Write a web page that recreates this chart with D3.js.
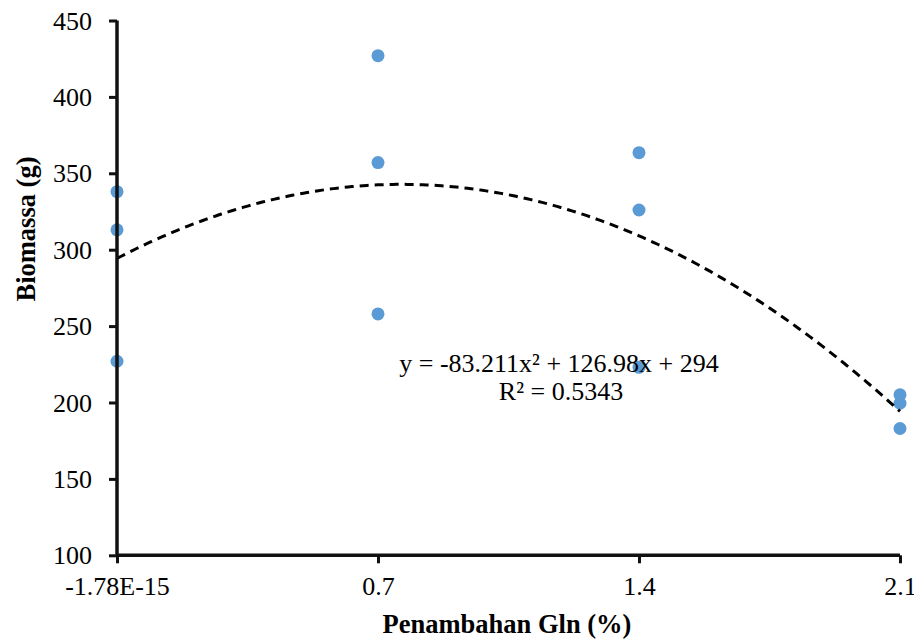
<!DOCTYPE html>
<html><head><meta charset="utf-8">
<script src="https://cdn.jsdelivr.net/npm/d3@7"></script>
<style>body{margin:0;background:#fff}svg{display:block}text{font-family:"Liberation Serif","Times New Roman",serif;fill:#000}</style>
</head><body>
<svg id="c" width="914" height="639"></svg>
<script>
const xValues = [0,0,0, 0.7,0.7,0.7, 1.4,1.4,1.4, 2.1,2.1,2.1];
const yValues = [338,313,227, 427,357,258, 363.5,326,223, 205,199.5,183];
const xTicks = [0, 0.7, 1.4, 2.1];
const xTickLabels = ["-1.78E-15", "0.7", "1.4", "2.1"];
const yTicks = [100,150,200,250,300,350,400,450];
const equationText = "y = -83.211x² + 126.98x + 294";
const r2Text = "R² = 0.5343";

const FONT = '"Liberation Serif","Times New Roman",serif';
const svg = d3.select("#c");
const L = 117, R = 900, T = 20.5, B = 555.3;
const x = d3.scaleLinear().domain([0, 2.1]).range([L, R]);
const y = d3.scaleLinear().domain([100, 450]).range([B, T]);

// polynomial (order 2) least squares fit of the data
function polyfit2(xs, ys){
  let S=[0,0,0,0,0], Ty=[0,0,0];
  xs.forEach((xi,i)=>{let p=1;for(let k=0;k<5;k++){S[k]+=p;if(k<3)Ty[k]+=p*ys[i];p*=xi;}});
  const A=[[S[0],S[1],S[2],Ty[0]],[S[1],S[2],S[3],Ty[1]],[S[2],S[3],S[4],Ty[2]]];
  for(let i=0;i<3;i++){for(let j=i+1;j<3;j++){const f=A[j][i]/A[i][i];for(let k=i;k<4;k++)A[j][k]-=f*A[i][k];}}
  const c=[0,0,0];
  for(let i=2;i>=0;i--){let s=A[i][3];for(let k=i+1;k<3;k++)s-=A[i][k]*c[k];c[i]=s/A[i][i];}
  return c;
}
const coef = polyfit2(xValues, yValues);
const trend = d3.range(0, 2.1001, 0.01).map(v => [v, coef[0]+coef[1]*v+coef[2]*v*v]);

// points
svg.append("g").selectAll("circle").data(xValues).join("circle")
  .attr("cx", (d)=>x(d)).attr("cy", (d,i)=>y(yValues[i])).attr("r", 6.5).attr("fill", "#5b9bd5");

// trendline
svg.append("path").datum(trend)
  .attr("d", d3.line().x(d=>x(d[0])).y(d=>y(d[1])))
  .attr("fill","none").attr("stroke","#000").attr("stroke-width",3).attr("stroke-dasharray","9,6");

// axes
const ya = svg.append("g").attr("transform",`translate(${L},0)`)
  .call(d3.axisLeft(y).tickValues(yTicks).tickSize(8).tickPadding(17).tickFormat(d3.format("d")));
const xa = svg.append("g").attr("transform",`translate(0,${B})`)
  .call(d3.axisBottom(x).tickValues(xTicks).tickSize(8).tickPadding(6).tickFormat((d,i)=>xTickLabels[i]));
[ya, xa].forEach(g=>{
  g.attr("font-family", FONT).attr("font-size", 26);
  g.select(".domain").attr("stroke","#111").attr("stroke-width",3.5);
  g.selectAll(".tick line").attr("stroke","#111").attr("stroke-width",3);
  g.selectAll(".tick text").attr("fill","#000");
});
ya.select(".domain").attr("d", `M-0,${T}V${B}`);
xa.select(".domain").attr("d", `M${L},0H${R}`);
ya.selectAll(".tick text").attr("dy","0.33em");
xa.selectAll(".tick text").attr("y", 40).attr("dy","0");

// titles
svg.append("text").attr("transform","translate(35,229) rotate(-90)").attr("text-anchor","middle")
  .attr("font-family", FONT).attr("font-size", 26.5).attr("font-weight","bold").text("Biomassa (g)");
svg.append("text").attr("x",507).attr("y",633).attr("text-anchor","middle")
  .attr("font-family", FONT).attr("font-size", 26.5).attr("font-weight","bold").text("Penambahan Gln (%)");

// equation label
svg.append("text").attr("x",559).attr("y",372).attr("text-anchor","middle").attr("font-family", FONT).attr("font-size", 26).text(equationText);
svg.append("text").attr("x",561).attr("y",400).attr("text-anchor","middle").attr("font-family", FONT).attr("font-size", 26).text(r2Text);
</script>
</body></html>
